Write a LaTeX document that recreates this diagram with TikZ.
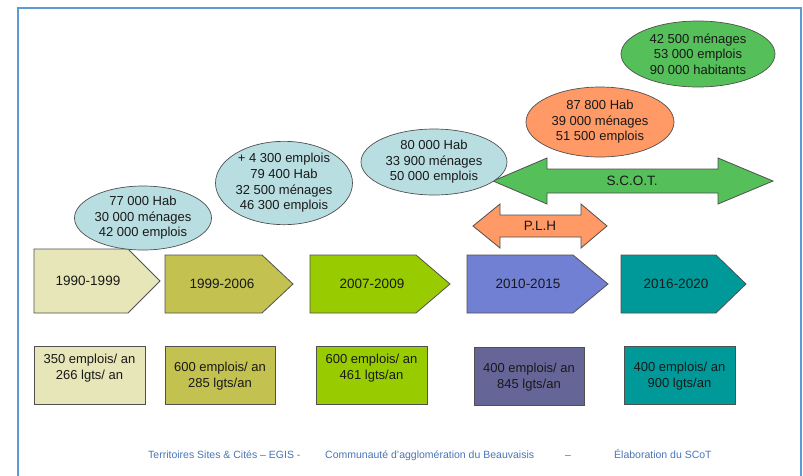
\documentclass[tikz,border=0pt]{standalone}
\usepackage{fontspec}
\setmainfont{Liberation Sans}
\usetikzlibrary{shapes.geometric}
\definecolor{framec}{RGB}{91,155,213}
\definecolor{outc}{RGB}{80,80,80}
\definecolor{cA}{RGB}{230,230,184}
\definecolor{cB}{RGB}{195,194,80}
\definecolor{cC}{RGB}{153,204,0}
\definecolor{cD}{RGB}{114,128,212}
\definecolor{cDbox}{RGB}{102,101,152}
\definecolor{cE}{RGB}{0,153,153}
\definecolor{lblue}{RGB}{185,222,226}
\definecolor{orangec}{RGB}{255,153,102}
\definecolor{greenc}{RGB}{85,191,89}
\definecolor{footc}{RGB}{74,117,181}
\begin{document}
\begin{tikzpicture}[x=1pt,y=-1pt,
  shp/.style={draw=outc, line width=0.8pt, line join=miter},
  ell/.style={ellipse, draw=outc, line width=0.7pt, inner sep=0pt, align=center,
     font=\fontsize{13}{15.6}\selectfont, text=black!90},
  lbl/.style={inner sep=0pt, align=center, font=\fontsize{13.5}{16}\selectfont, text=black!90},
  boxtxt/.style={inner sep=0pt, align=center, font=\fontsize{13}{16.5}\selectfont, text=black!90},
  foot/.style={inner sep=0pt, anchor=base west, font=\fontsize{10.5}{12}\selectfont, text=footc}]
\useasboundingbox (0,0) rectangle (803,475);
\fill[white] (0,0) rectangle (803,475);
\draw[framec, line width=2pt] (18,476) -- (18,8) -- (801,8) -- (801,476);

% chevrons
\draw[shp, fill=cA] (34,249) -- (128,249) -- (160,281) -- (128,313) -- (34,313) -- cycle;
\draw[shp, fill=cB] (165,255) -- (262,255) -- (293,284) -- (262,313) -- (165,313) -- cycle;
\draw[shp, fill=cC] (310,255) -- (416,255) -- (450,284) -- (416,313) -- (310,313) -- cycle;
\draw[shp, fill=cD] (467,255) -- (573,255) -- (608,284) -- (573,313) -- (467,313) -- cycle;
\draw[shp, fill=cE] (621,255) -- (716,255) -- (746,284) -- (716,313) -- (621,313) -- cycle;
\node[lbl] (t1) at (88,281) {1990-1999};
\node[lbl] (t2) at (222,284) {1999-2006};
\node[lbl] (t3) at (372,284) {2007-2009};
\node[lbl] (t4) at (528,284) {2010-2015};
\node[lbl] (t5) at (676,284) {2016-2020};

% boxes
\draw[shp, fill=cA] (34,346) rectangle (145,404);
\draw[shp, fill=cB] (165,346) rectangle (275,404);
\draw[shp, fill=cC] (316,346) rectangle (427,404);
\draw[shp, fill=cDbox] (474,347) rectangle (584,405);
\draw[shp, fill=cE] (624,346) rectangle (735,404);
\node[boxtxt] (b1) at (89.5,368) {350 emplois/ an\\266 lgts/ an};
\node[boxtxt] (b2) at (220,376) {600 emplois/ an\\285 lgts/an};
\node[boxtxt] (b3) at (371.5,368) {600 emplois/ an\\461 lgts/an};
\node[boxtxt] (b4) at (529,377) {400 emplois/ an\\845 lgts/an};
\node[boxtxt] (b5) at (679.5,376) {400 emplois/ an\\900 lgts/an};

% double arrows
\draw[shp, fill=greenc] (493,181) -- (547,158) -- (547,169) -- (718,169) -- (718,158) -- (773,181)
  -- (718,204) -- (718,193) -- (547,193) -- (547,204) -- cycle;
\node[lbl] (scot) at (632,181) {S.C.O.T.};
\draw[shp, fill=orangec] (473,226) -- (500,204) -- (500,215) -- (581,215) -- (581,204) -- (607,226)
  -- (581,248) -- (581,237) -- (500,237) -- (500,248) -- cycle;
\node[lbl] (plh) at (540,226) {P.L.H};

% ellipses
\node[ell, fill=lblue, minimum width=130pt, minimum height=64pt] (e1) at (143,218)
  {77 000 Hab\\30 000 ménages\\42 000 emplois};
\node[ell, fill=lblue, minimum width=124pt, minimum height=80pt] (e2) at (284,183)
  {+ 4 300 emplois\\79 400 Hab\\32 500 ménages\\46 300 emplois};
\node[ell, fill=lblue, minimum width=146pt, minimum height=66pt] (e3) at (434,162)
  {80 000 Hab\\33 900 ménages\\50 000 emplois};
\node[ell, fill=orangec, minimum width=148pt, minimum height=70pt] (e4) at (600,122)
  {87 800 Hab\\39 000 ménages\\51 500 emplois};
\node[ell, fill=greenc, minimum width=154pt, minimum height=66pt] (e5) at (698,54)
  {42 500 ménages\\53 000 emplois\\90 000 habitants};

% footer
\node[foot] (f1) at (148,458) {Territoires Sites \& Cités – EGIS -};
\node[foot] (f2) at (325,458) {Communauté d’agglomération du Beauvaisis};
\node[foot, anchor=base] (f3) at (568,458) {–};
\node[foot] (f4) at (614,458) {Élaboration du SCoT};
\end{tikzpicture}
\end{document}
